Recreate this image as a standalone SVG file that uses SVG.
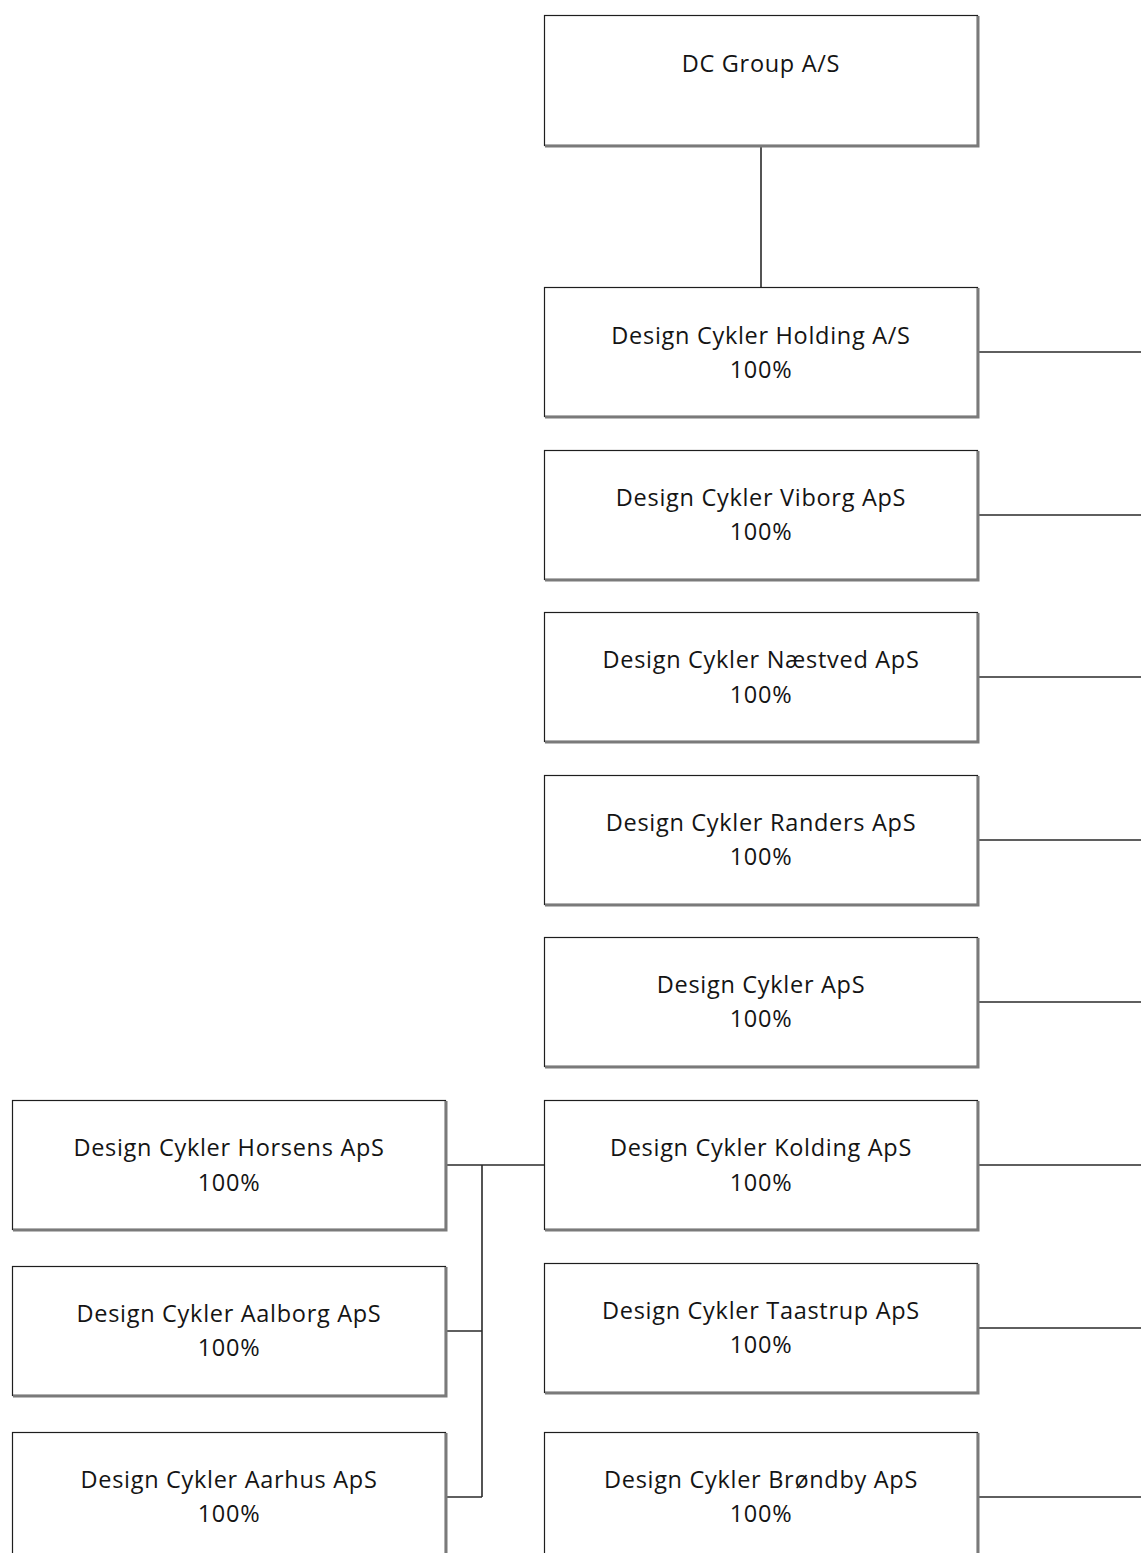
<svg xmlns="http://www.w3.org/2000/svg" width="1141" height="1553" viewBox="0 0 1141 1553">
<style>
.box{fill:#fff;stroke:#1e1e1e;stroke-width:1.2}
.sh{fill:none;stroke:#7a7a7a;stroke-width:3}
.t{font-family:"Open Sans","Noto Sans","Liberation Sans",sans-serif;font-size:23.5px;font-weight:500;letter-spacing:0.7px;fill:#141414;text-anchor:middle}
.c{fill:none;stroke:#2a2a2a;stroke-width:1.6}
</style>
<rect width="1141" height="1553" fill="#fff"/>
<g id="connectors">
<line class="c" x1="761" y1="146" x2="761" y2="287"/>
<line class="c" x1="978" y1="352" x2="1141" y2="352"/>
<line class="c" x1="978" y1="515" x2="1141" y2="515"/>
<line class="c" x1="978" y1="677" x2="1141" y2="677"/>
<line class="c" x1="978" y1="840" x2="1141" y2="840"/>
<line class="c" x1="978" y1="1002" x2="1141" y2="1002"/>
<line class="c" x1="978" y1="1165" x2="1141" y2="1165"/>
<line class="c" x1="978" y1="1328" x2="1141" y2="1328"/>
<line class="c" x1="978" y1="1497" x2="1141" y2="1497"/>
<line class="c" x1="446" y1="1165" x2="544" y2="1165"/>
<line class="c" x1="482" y1="1165" x2="482" y2="1497"/>
<line class="c" x1="446" y1="1331" x2="482" y2="1331"/>
<line class="c" x1="446" y1="1497" x2="482" y2="1497"/>
</g>
<g id="dc-group">
<rect class="box" x="544.5" y="15.5" width="433" height="130"/>
<polyline class="sh" points="978,16 978,146 545,146"/>
<text class="t" x="761" y="72">DC Group A/S</text>
</g>
<g id="holding">
<rect class="box" x="544.5" y="287.5" width="433" height="129"/>
<polyline class="sh" points="978,288 978,417 545,417"/>
<text class="t" x="761" y="344">Design Cykler Holding A/S</text>
<text class="t" x="761" y="378">100%</text>
</g>
<g id="viborg">
<rect class="box" x="544.5" y="450.5" width="433" height="129"/>
<polyline class="sh" points="978,451 978,580 545,580"/>
<text class="t" x="761" y="506">Design Cykler Viborg ApS</text>
<text class="t" x="761" y="540">100%</text>
</g>
<g id="naestved">
<rect class="box" x="544.5" y="612.5" width="433" height="129"/>
<polyline class="sh" points="978,613 978,742 545,742"/>
<text class="t" x="761" y="668">Design Cykler Næstved ApS</text>
<text class="t" x="761" y="703">100%</text>
</g>
<g id="randers">
<rect class="box" x="544.5" y="775.5" width="433" height="129"/>
<polyline class="sh" points="978,776 978,905 545,905"/>
<text class="t" x="761" y="831">Design Cykler Randers ApS</text>
<text class="t" x="761" y="865">100%</text>
</g>
<g id="dc-aps">
<rect class="box" x="544.5" y="937.5" width="433" height="129"/>
<polyline class="sh" points="978,938 978,1067 545,1067"/>
<text class="t" x="761" y="993">Design Cykler ApS</text>
<text class="t" x="761" y="1027">100%</text>
</g>
<g id="kolding">
<rect class="box" x="544.5" y="1100.5" width="433" height="129"/>
<polyline class="sh" points="978,1101 978,1230 545,1230"/>
<text class="t" x="761" y="1156">Design Cykler Kolding ApS</text>
<text class="t" x="761" y="1191">100%</text>
</g>
<g id="taastrup">
<rect class="box" x="544.5" y="1263.5" width="433" height="129"/>
<polyline class="sh" points="978,1264 978,1393 545,1393"/>
<text class="t" x="761" y="1319">Design Cykler Taastrup ApS</text>
<text class="t" x="761" y="1353">100%</text>
</g>
<g id="brondby">
<rect class="box" x="544.5" y="1432.5" width="433" height="129"/>
<polyline class="sh" points="978,1433 978,1562 545,1562"/>
<text class="t" x="761" y="1488">Design Cykler Brøndby ApS</text>
<text class="t" x="761" y="1522">100%</text>
</g>
<g id="horsens">
<rect class="box" x="12.5" y="1100.5" width="433" height="129"/>
<polyline class="sh" points="446,1101 446,1230 13,1230"/>
<text class="t" x="229" y="1156">Design Cykler Horsens ApS</text>
<text class="t" x="229" y="1191">100%</text>
</g>
<g id="aalborg">
<rect class="box" x="12.5" y="1266.5" width="433" height="129"/>
<polyline class="sh" points="446,1267 446,1396 13,1396"/>
<text class="t" x="229" y="1322">Design Cykler Aalborg ApS</text>
<text class="t" x="229" y="1356">100%</text>
</g>
<g id="aarhus">
<rect class="box" x="12.5" y="1432.5" width="433" height="129"/>
<polyline class="sh" points="446,1433 446,1562 13,1562"/>
<text class="t" x="229" y="1488">Design Cykler Aarhus ApS</text>
<text class="t" x="229" y="1522">100%</text>
</g>
</svg>
